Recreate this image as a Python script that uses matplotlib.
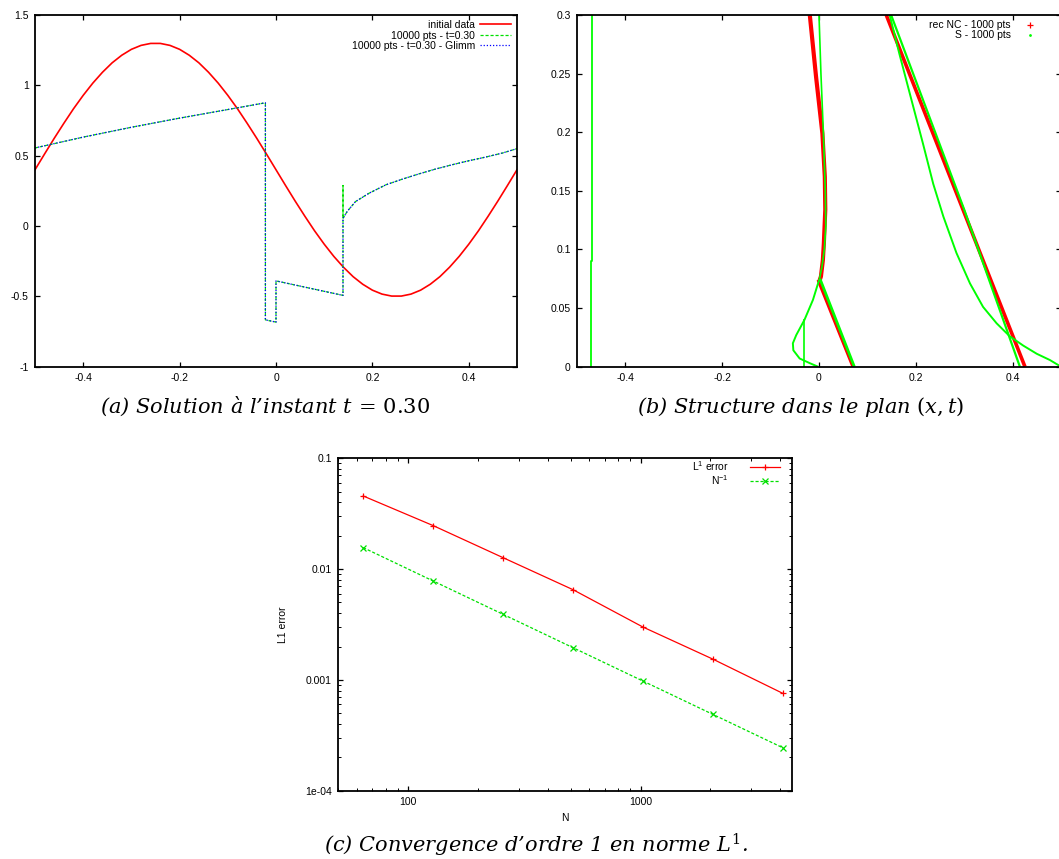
import matplotlib
matplotlib.use('Agg')
import matplotlib.pyplot as plt
from matplotlib.lines import Line2D
from matplotlib.ticker import FixedLocator, FixedFormatter, LogLocator, NullFormatter

plt.rcParams['font.family'] = ['Liberation Sans', 'DejaVu Sans']
plt.rcParams['axes.unicode_minus'] = False
plt.rcParams['mathtext.fontset'] = 'custom'
plt.rcParams['mathtext.rm'] = 'DejaVu Serif'
plt.rcParams['mathtext.it'] = 'DejaVu Serif:italic'
plt.rcParams['mathtext.sf'] = 'Liberation Sans'

# ---------------- data: panel (a) ----------------
init_x = [-0.50, -0.48, -0.46, -0.44, -0.42, -0.40, -0.38, -0.36, -0.34, -0.32,
          -0.30, -0.28, -0.26, -0.24, -0.22, -0.20, -0.18, -0.16, -0.14, -0.12,
          -0.10, -0.08, -0.06, -0.04, -0.02, 0.00, 0.02, 0.04, 0.06, 0.08,
          0.10, 0.12, 0.14, 0.16, 0.18, 0.20, 0.22, 0.24, 0.26, 0.28,
          0.30, 0.32, 0.34, 0.36, 0.38, 0.40, 0.42, 0.44, 0.46, 0.48, 0.50]
init_u = [0.400, 0.513, 0.624, 0.731, 0.834, 0.929, 1.016, 1.093, 1.160, 1.214,
          1.256, 1.284, 1.298, 1.298, 1.284, 1.256, 1.214, 1.160, 1.093, 1.016,
          0.929, 0.834, 0.731, 0.624, 0.513, 0.400, 0.287, 0.176, 0.069, -0.034,
          -0.129, -0.216, -0.293, -0.360, -0.414, -0.456, -0.484, -0.498, -0.498, -0.484,
          -0.456, -0.414, -0.360, -0.293, -0.216, -0.129, -0.034, 0.069, 0.176, 0.287, 0.400]

sol_x = [-0.50, -0.40, -0.30, -0.20, -0.10, -0.022, -0.022, 0.000, 0.000, 0.139,
         0.139, 0.139, 0.148, 0.165, 0.193, 0.228, 0.262, 0.297, 0.331, 0.366,
         0.400, 0.435, 0.470, 0.500]
sol_u = [0.555, 0.632, 0.702, 0.767, 0.828, 0.876, -0.667, -0.683, -0.390, -0.493,
         0.288, 0.055, 0.105, 0.174, 0.233, 0.293, 0.333, 0.371, 0.405, 0.436,
         0.464, 0.490, 0.519, 0.550]

glimm_x = [-0.50, -0.40, -0.30, -0.20, -0.10, -0.022, -0.022, 0.000, 0.000, 0.139,
           0.139, 0.148, 0.165, 0.193, 0.228, 0.262, 0.297, 0.331, 0.366,
           0.400, 0.435, 0.470, 0.500]
glimm_u = [0.555, 0.632, 0.702, 0.767, 0.828, 0.876, -0.667, -0.683, -0.390, -0.493,
           0.055, 0.105, 0.174, 0.233, 0.293, 0.333, 0.371, 0.405, 0.436,
           0.464, 0.490, 0.519, 0.550]

a_xticks = [-0.4, -0.2, 0.0, 0.2, 0.4]
a_xlabels = ['-0.4', '-0.2', '0', '0.2', '0.4']
a_yticks = [-1.0, -0.5, 0.0, 0.5, 1.0, 1.5]
a_ylabels = ['-1', '-0.5', '0', '0.5', '1', '1.5']

# ---------------- data: panel (b) ----------------
rec_mid_x = [-0.019, -0.006, 0.007, 0.012, 0.013, 0.010, 0.008, 0.004, 0.000]
rec_mid_t = [0.300, 0.247, 0.199, 0.162, 0.134, 0.105, 0.091, 0.077, 0.072]
rec_low_x = [-0.002, 0.070]
rec_low_t = [0.074, 0.000]
rec_right_x = [0.139, 0.4255]
rec_right_t = [0.300, 0.000]

s_left_x = [-0.4705, -0.4705, -0.4690, -0.4690]
s_left_t = [0.000, 0.090, 0.090, 0.300]
s_mid_x = [0.000, 0.004, 0.009, 0.013, 0.014, 0.011, 0.006, 0.001]
s_mid_t = [0.300, 0.250, 0.200, 0.150, 0.120, 0.100, 0.085, 0.075]
s_c_x = [0.001, -0.0125, -0.030, -0.047, -0.054, -0.053, -0.040, -0.019, -0.002]
s_c_t = [0.075, 0.057, 0.040, 0.027, 0.020, 0.014, 0.007, 0.003, 0.000]
s_vert_x = [-0.032, -0.032]
s_vert_t = [0.000, 0.041]
s_low_x = [0.002, 0.073]
s_low_t = [0.075, 0.000]
s_right_x = [0.149, 0.300, 0.415]
s_right_t = [0.300, 0.134, 0.000]
s_curve_x = [0.146, 0.166, 0.1876, 0.215, 0.236, 0.257, 0.284, 0.312, 0.339,
             0.367, 0.394, 0.422, 0.450, 0.477, 0.500]
s_curve_t = [0.300, 0.267, 0.233, 0.190, 0.156, 0.128, 0.097, 0.071, 0.051,
             0.037, 0.026, 0.018, 0.011, 0.0057, 0.000]

b_yticks = [0.0, 0.05, 0.10, 0.15, 0.20, 0.25, 0.30]
b_ylabels = ['0', '0.05', '0.1', '0.15', '0.2', '0.25', '0.3']

# ---------------- data: panel (c) ----------------
N_vals = [64, 128, 256, 512, 1024, 2048, 4096]
l1_err = [0.0457, 0.0247, 0.01268, 0.00652, 0.00300, 0.00154, 0.000756]
n_inv = [0.015625, 0.0078125, 0.00390625, 0.001953, 0.0009766, 0.0004883, 0.0002441]
c_yticks = [1e-4, 1e-3, 1e-2, 1e-1]
c_ylabels = ['1e-04', '0.001', '0.01', '0.1']
c_xticks = [100, 1000]
c_xlabels = ['100', '1000']

# ---------------- figure ----------------
W, H = 1059, 859
fig = plt.figure(figsize=(W / 100, H / 100), dpi=100)


def ax_px(l, t, r, b):
    return fig.add_axes([l / W, 1 - b / H, (r - l) / W, (b - t) / H])


def style(ax):
    for s in ax.spines.values():
        s.set_linewidth(1.3)
    ax.tick_params(which='major', direction='in', length=3.5, width=0.9,
                   top=True, right=True, labelsize=7.5, pad=4.5)
    ax.tick_params(which='minor', direction='in', length=2, width=0.7,
                   top=True, right=True)


RED = '#ff0000'
GREEN = '#00e000'
BLUE = '#0000ff'

# ---- panel (a) ----
axa = ax_px(35, 15, 517, 366.7)
style(axa)
axa.plot(init_x, init_u, color=RED, lw=1.2, label='initial data')
axa.plot(sol_x, sol_u, color=GREEN, lw=0.9, dashes=(2.5, 1.5),
         label='10000 pts - t=0.30')
axa.plot(glimm_x, glimm_u, color=BLUE, lw=0.9, dashes=(1.0, 1.5),
         label='10000 pts - t=0.30 - Glimm')
axa.set_xlim(-0.5, 0.5)
axa.set_ylim(-1, 1.5)
axa.xaxis.set_major_locator(FixedLocator(a_xticks))
axa.xaxis.set_major_formatter(FixedFormatter(a_xlabels))
axa.yaxis.set_major_locator(FixedLocator(a_yticks))
axa.yaxis.set_major_formatter(FixedFormatter(a_ylabels))
axa.legend(loc='upper right', bbox_to_anchor=((511 - 35) / 482, 1 - (20 - 15) / 351.7),
           borderaxespad=0, borderpad=0, frameon=False, markerfirst=False,
           handlelength=3.0, handletextpad=0.45, labelspacing=0.05, fontsize=7.5)

# ---- panel (b) ----
axb = ax_px(577, 15, 1061, 366.7)
style(axb)
axb.plot(rec_mid_x, rec_mid_t, color=RED, lw=3.0, solid_capstyle='butt')
axb.plot(rec_low_x, rec_low_t, color=RED, lw=2.2, solid_capstyle='butt')
axb.plot(rec_right_x, rec_right_t, color=RED, lw=2.6, solid_capstyle='butt')
for xs, ts, lw in [(s_left_x, s_left_t, 1.3), (s_mid_x, s_mid_t, 1.2),
                   (s_c_x, s_c_t, 1.4), (s_vert_x, s_vert_t, 1.2),
                   (s_low_x, s_low_t, 2.0), (s_right_x, s_right_t, 1.6),
                   (s_curve_x, s_curve_t, 1.4)]:
    axb.plot(xs, ts, color='#00ff00', lw=lw, solid_capstyle='butt')
axb.set_xlim(-0.5, 0.5)
axb.set_ylim(0, 0.3)
axb.xaxis.set_major_locator(FixedLocator(a_xticks))
axb.xaxis.set_major_formatter(FixedFormatter(a_xlabels))
axb.yaxis.set_major_locator(FixedLocator(b_yticks))
axb.yaxis.set_major_formatter(FixedFormatter(b_ylabels))
hb = [Line2D([], [], color=RED, marker='+', ls='none', ms=4, mew=0.9),
      Line2D([], [], color='#00ff00', marker='.', ls='none', ms=2)]
axb.legend(hb, ['rec NC - 1000 pts', 'S - 1000 pts'], loc='upper right',
           bbox_to_anchor=((1046 - 577) / 484, 1 - (20.5 - 15) / 351.7),
           borderaxespad=0, borderpad=0, frameon=False, markerfirst=False,
           handlelength=3.0, handletextpad=0.4, labelspacing=0.0, fontsize=7.5)

# ---- panel (c) ----
axc = ax_px(338.3, 458.3, 792.3, 790.7)
axc.set_xscale('log')
axc.set_yscale('log')
style(axc)
axc.plot(N_vals, l1_err, color=RED, lw=0.9, marker='+', ms=5, mew=0.9,
         label=r'L$^{\mathsf{1}}$ error')
axc.plot(N_vals, n_inv, color=GREEN, lw=0.9, dashes=(2.5, 1.5), marker='x',
         ms=4, mew=0.9, label=r'N$^{\mathsf{-1}}$')
axc.set_xlim(50, 4500)
axc.set_ylim(1e-4, 0.1)
axc.xaxis.set_major_locator(FixedLocator(c_xticks))
axc.xaxis.set_major_formatter(FixedFormatter(c_xlabels))
axc.xaxis.set_minor_locator(LogLocator(base=10, subs=(2, 3, 4, 5, 6, 7, 8, 9)))
axc.xaxis.set_minor_formatter(NullFormatter())
axc.yaxis.set_major_locator(FixedLocator(c_yticks))
axc.yaxis.set_major_formatter(FixedFormatter(c_ylabels))
axc.yaxis.set_minor_locator(LogLocator(base=10, subs=(2, 3, 4, 5, 6, 7, 8, 9)))
axc.yaxis.set_minor_formatter(NullFormatter())
axc.legend(loc='upper right', bbox_to_anchor=((780 - 338.3) / 454, 1 - (460 - 458.3) / 332.4),
           borderaxespad=0, borderpad=0, frameon=False, markerfirst=False,
           handlelength=2.9, handletextpad=2.0, labelspacing=0.05, fontsize=7.5)
fig.text(565 / W, 1 - 817.7 / H, 'N', ha='center', va='center', fontsize=7.5)
fig.text(283 / W, 1 - 625 / H, 'L1 error', ha='center', va='center',
         rotation=90, fontsize=7.5)

# ---- captions ----
cap = dict(ha='center', va='center', fontsize=15, family='DejaVu Serif', style='italic')
fig.text(265 / W, 1 - 406.7 / H, '(a) Solution à l’instant $t\\,=\\,0.30$', **cap)
fig.text(800.7 / W, 1 - 406.7 / H, '(b) Structure dans le plan $(x,t)$', **cap)
fig.text(536.7 / W, 1 - 845 / H, '(c) Convergence d’ordre 1 en norme $L^1$.', **cap)

fig.savefig('out.png', dpi=100)
